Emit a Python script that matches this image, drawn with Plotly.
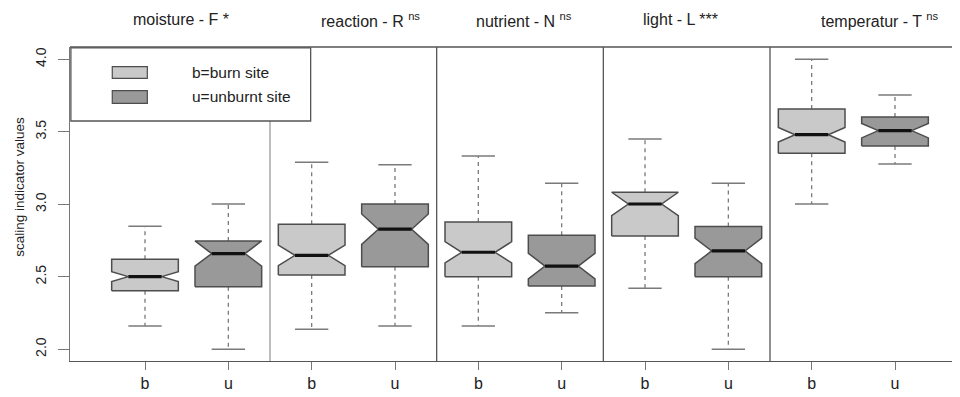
import plotly.graph_objects as go

# ---- data ----
panels = ["moisture - F *", "reaction - R <sup>ns</sup>", "nutrient - N <sup>ns</sup>",
          "light - L ***", "temperatur - T <sup>ns</sup>"]
groups = ["b", "u", "b", "u", "b", "u", "b", "u", "b", "u"]
positions = [1, 2, 3, 4, 5, 6, 7, 8, 9, 10]
lower_whisker = [2.161, 2.000, 2.138, 2.161, 2.161, 2.252, 2.421, 2.000, 3.002, 3.278]
q1 = [2.404, 2.432, 2.512, 2.570, 2.501, 2.436, 2.781, 2.501, 3.352, 3.402]
median = [2.501, 2.660, 2.648, 2.828, 2.669, 2.574, 3.002, 2.678, 3.480, 3.508]
q3 = [2.621, 2.747, 2.862, 3.002, 2.878, 2.786, 3.083, 2.846, 3.657, 3.602]
upper_whisker = [2.848, 3.002, 3.290, 3.273, 3.333, 3.145, 3.450, 3.145, 4.000, 3.754]
notch_half = [0.034, 0.087, 0.071, 0.105, 0.073, 0.088, 0.080, 0.088, 0.050, 0.050]
y_ticks = [2.0, 2.5, 3.0, 3.5, 4.0]
legend_labels = ["b=burn site", "u=unburnt site"]

# ---- style ----
FILL = {"b": "#c9c9c9", "u": "#999999"}
EDGE = "#4d4d4d"
WHISK = "#7a7a7a"
FONT = "Liberation Sans, Arial, sans-serif"
W = 0.4      # half box width
WN = 0.2     # half notch width

fig = go.Figure()

for x, g, lw, a, m, b, uw, n in zip(positions, groups, lower_whisker, q1, median, q3,
                                     upper_whisker, notch_half):
    nlo, nhi = m - n, m + n
    xs = [x - W, x - W, x - WN, x - W, x - W, x + W, x + W, x + WN, x + W, x + W, x - W]
    ys = [a, nlo, m, nhi, b, b, nhi, m, nlo, a, a]
    fig.add_trace(go.Scatter(x=[x, x, None, x, x], y=[b, uw, None, a, lw], mode="lines",
                             line=dict(color=WHISK, width=1.3, dash="4px,4px"),
                             hoverinfo="skip", showlegend=False))
    fig.add_trace(go.Scatter(x=[x - WN, x + WN, None, x - WN, x + WN], y=[uw, uw, None, lw, lw],
                             mode="lines", line=dict(color=WHISK, width=1.5),
                             hoverinfo="skip", showlegend=False))
    fig.add_trace(go.Scatter(x=xs, y=ys, mode="lines", fill="toself", fillcolor=FILL[g],
                             line=dict(color=EDGE, width=1.5), hoverinfo="skip",
                             showlegend=False))
    fig.add_trace(go.Scatter(x=[x - WN, x + WN], y=[m, m], mode="lines",
                             line=dict(color="#111111", width=3.2), hoverinfo="skip",
                             showlegend=False))

shapes = []
shapes.append(dict(type="line", xref="paper", yref="paper", x0=0, x1=1, y0=1, y1=1,
                   line=dict(color="#555555", width=1.3)))
for i, xd in enumerate([2.5, 4.5, 6.5, 8.5]):
    shapes.append(dict(type="line", xref="x", yref="paper", x0=xd, x1=xd,
                       y0=0, y1=0.764 if i == 0 else 1,
                       line=dict(color="#555555" if i else "#9a9a9a", width=1.3)))
shapes.append(dict(type="rect", xref="paper", yref="paper", x0=0.001, x1=0.2704,
                   y0=0.7643, y1=0.997, line=dict(color="#555555", width=1.3),
                   fillcolor="rgba(0,0,0,0)"))
for (y0, y1), g in zip([(0.9003, 0.9373), (0.8207, 0.8608)], ["b", "u"]):
    shapes.append(dict(type="rect", xref="paper", yref="paper", x0=0.0475, x1=0.0869,
                       y0=y0, y1=y1, line=dict(color=EDGE, width=1.2), fillcolor=FILL[g]))

annotations = []
for lab, yc in zip(legend_labels, [0.9188, 0.8408]):
    annotations.append(dict(text=lab, xref="paper", yref="paper", x=0.1348, y=yc,
                            xanchor="left", yanchor="middle", showarrow=False,
                            font=dict(family=FONT, size=15.5, color="#222222")))
for t, xc in zip(panels, [1.432, 3.70, 5.548, 7.42, 9.81]):
    annotations.append(dict(text=t, xref="x", yref="paper", x=xc, y=1.086,
                            xanchor="center", yanchor="middle", showarrow=False,
                            font=dict(family=FONT, size=16, color="#222222")))
annotations.append(dict(text="scaling indicator values", xref="paper", yref="paper",
                        x=-0.0562, y=0.555, textangle=-90, xanchor="center",
                        yanchor="middle", showarrow=False,
                        font=dict(family=FONT, size=13.5, color="#222222")))

# the page body adds an 8px offset; figure is sized so the plot lands where the reference has it
fig.update_layout(
    width=952, height=389,
    margin=dict(l=62, r=0, t=39, b=36),
    plot_bgcolor="white", paper_bgcolor="white",
    shapes=shapes, annotations=annotations,
    xaxis=dict(range=[0.1, 10.78], tickvals=positions, ticktext=groups,
               showgrid=False, zeroline=False, showline=True, linecolor="#555555",
               linewidth=1.3, ticks="outside", ticklen=8, tickcolor="#777777",
               tickfont=dict(family=FONT, size=16, color="#222222")),
    yaxis=dict(range=[1.919, 4.085], tickvals=y_ticks,
               ticktext=[f"{v:.1f}" for v in y_ticks], tickangle=-90,
               showgrid=False, zeroline=False, showline=True, linecolor="#777777",
               linewidth=1.3, ticks="outside", ticklen=11, tickcolor="#777777",
               ticklabelstandoff=6,
               tickfont=dict(family=FONT, size=14, color="#222222")),
)

fig.write_html("out.html")
